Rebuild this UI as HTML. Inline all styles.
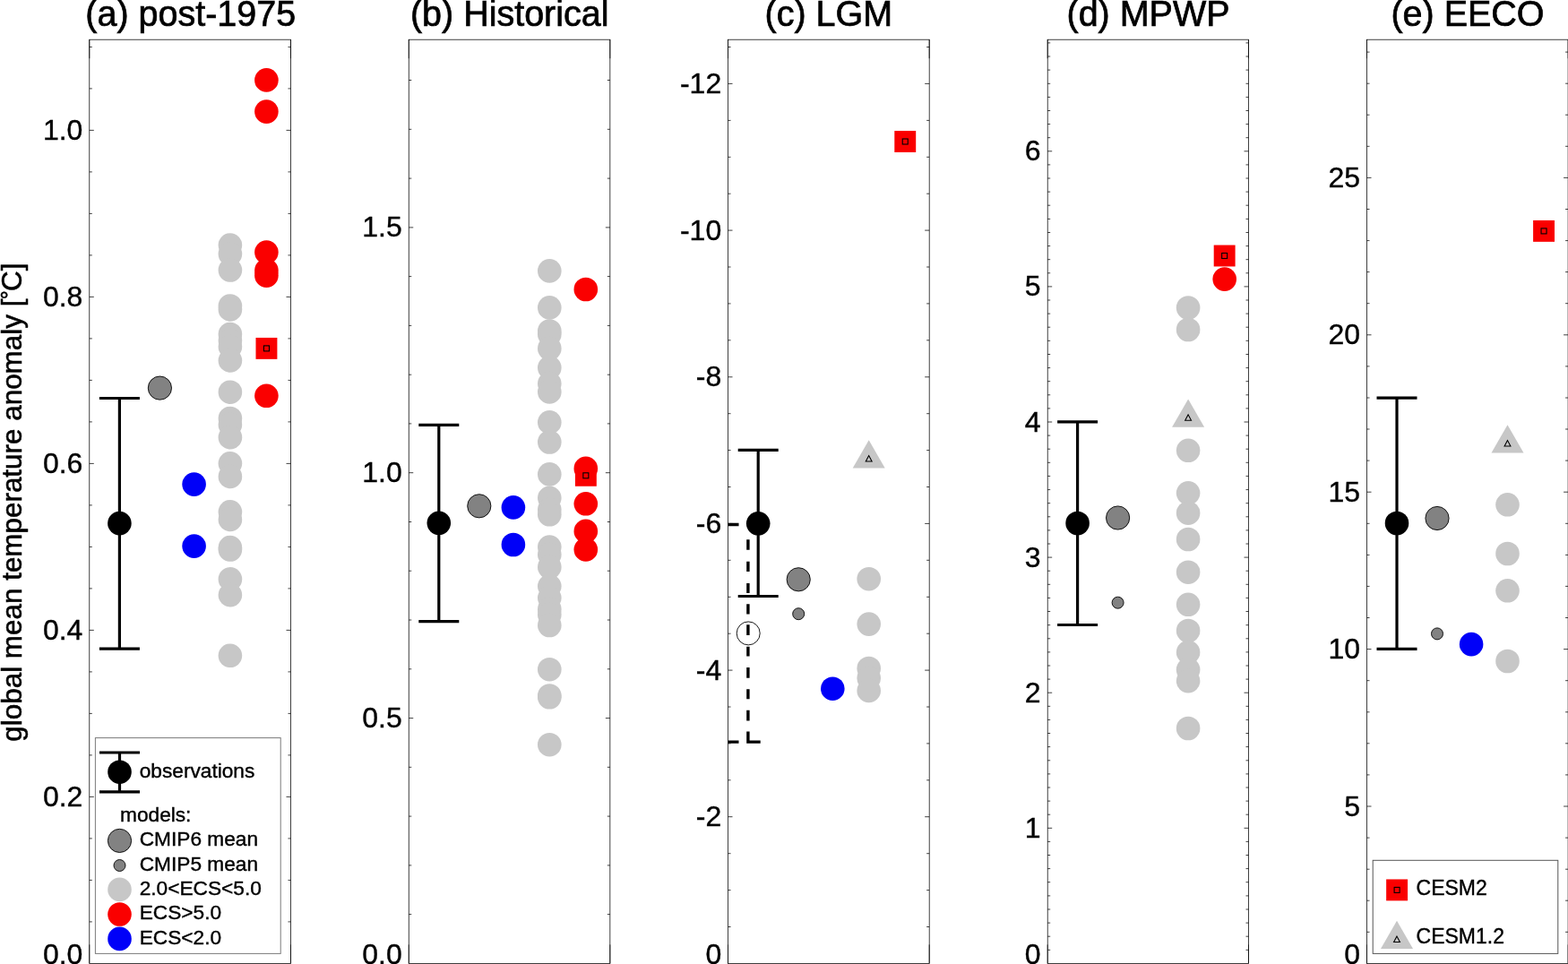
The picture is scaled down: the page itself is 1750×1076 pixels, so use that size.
<!DOCTYPE html>
<html lang="en"><head><meta charset="utf-8"><title>Global mean temperature anomaly</title>
<style>html,body{margin:0;padding:0;background:#fff}body{width:1750px;height:1076px;overflow:hidden}svg{display:block}text{font-family:'Liberation Sans', sans-serif;fill:#000}</style>
</head><body>
<svg width="1750" height="1076" viewBox="0 0 1750 1076">
<rect width="1750" height="1076" fill="#fff"/>
<g>
<text transform="translate(212.7,28.8) scale(1,1.030)" font-size="39.5" text-anchor="middle" stroke="#000" stroke-width="0.70">(a) post-1975</text>
<path d="M99.80 1028.9h3.0M324.50 1028.9h-3.0M99.80 982.4h3.0M324.50 982.4h-3.0M99.80 935.9h3.0M324.50 935.9h-3.0M99.80 889.4h5.0M324.50 889.4h-5.0M99.80 842.9h3.0M324.50 842.9h-3.0M99.80 796.4h3.0M324.50 796.4h-3.0M99.80 749.9h3.0M324.50 749.9h-3.0M99.80 703.4h5.0M324.50 703.4h-5.0M99.80 656.9h3.0M324.50 656.9h-3.0M99.80 610.4h3.0M324.50 610.4h-3.0M99.80 563.9h3.0M324.50 563.9h-3.0M99.80 517.4h5.0M324.50 517.4h-5.0M99.80 470.9h3.0M324.50 470.9h-3.0M99.80 424.4h3.0M324.50 424.4h-3.0M99.80 377.9h3.0M324.50 377.9h-3.0M99.80 331.4h5.0M324.50 331.4h-5.0M99.80 284.9h3.0M324.50 284.9h-3.0M99.80 238.4h3.0M324.50 238.4h-3.0M99.80 191.9h3.0M324.50 191.9h-3.0M99.80 145.4h5.0M324.50 145.4h-5.0M99.80 98.9h3.0M324.50 98.9h-3.0M99.80 52.4h3.0M324.50 52.4h-3.0" stroke="#000" stroke-width="0.75" fill="none"/>
<rect x="99.80" y="44.2" width="224.70" height="1031.2" fill="none" stroke="#000" stroke-width="0.75"/>
<path d="M99.80 1075.4v-21M324.50 1075.4v-21M99.80 44.2v21M324.50 44.2v21" stroke="#000" stroke-width="0.7" fill="none"/>
<text transform="translate(92.4,1075.6) scale(1,0.980)" font-size="32" text-anchor="end" stroke="#000" stroke-width="0.40">0.0</text>
<text transform="translate(92.4,899.9) scale(1,0.980)" font-size="32" text-anchor="end" stroke="#000" stroke-width="0.40">0.2</text>
<text transform="translate(92.4,713.9) scale(1,0.980)" font-size="32" text-anchor="end" stroke="#000" stroke-width="0.40">0.4</text>
<text transform="translate(92.4,527.9) scale(1,0.980)" font-size="32" text-anchor="end" stroke="#000" stroke-width="0.40">0.6</text>
<text transform="translate(92.4,341.9) scale(1,0.980)" font-size="32" text-anchor="end" stroke="#000" stroke-width="0.40">0.8</text>
<text transform="translate(92.4,155.9) scale(1,0.980)" font-size="32" text-anchor="end" stroke="#000" stroke-width="0.40">1.0</text>
<circle cx="256.9" cy="273.6" r="13.3" fill="#c7c7c7"/>
<circle cx="256.9" cy="283.5" r="13.3" fill="#c7c7c7"/>
<circle cx="256.9" cy="301.5" r="13.3" fill="#c7c7c7"/>
<circle cx="256.9" cy="341.5" r="13.3" fill="#c7c7c7"/>
<circle cx="256.9" cy="345.4" r="13.3" fill="#c7c7c7"/>
<circle cx="256.9" cy="373.0" r="13.3" fill="#c7c7c7"/>
<circle cx="256.9" cy="380.0" r="13.3" fill="#c7c7c7"/>
<circle cx="256.9" cy="387.0" r="13.3" fill="#c7c7c7"/>
<circle cx="256.9" cy="402.4" r="13.3" fill="#c7c7c7"/>
<circle cx="256.9" cy="437.7" r="13.3" fill="#c7c7c7"/>
<circle cx="256.9" cy="467.0" r="13.3" fill="#c7c7c7"/>
<circle cx="256.9" cy="473.9" r="13.3" fill="#c7c7c7"/>
<circle cx="256.9" cy="488.2" r="13.3" fill="#c7c7c7"/>
<circle cx="256.9" cy="517.3" r="13.3" fill="#c7c7c7"/>
<circle cx="256.9" cy="531.9" r="13.3" fill="#c7c7c7"/>
<circle cx="256.9" cy="571.3" r="13.3" fill="#c7c7c7"/>
<circle cx="256.9" cy="579.9" r="13.3" fill="#c7c7c7"/>
<circle cx="256.9" cy="611.1" r="13.3" fill="#c7c7c7"/>
<circle cx="256.9" cy="613.5" r="13.3" fill="#c7c7c7"/>
<circle cx="256.9" cy="646.4" r="13.3" fill="#c7c7c7"/>
<circle cx="256.9" cy="664.1" r="13.3" fill="#c7c7c7"/>
<circle cx="256.9" cy="731.8" r="13.3" fill="#c7c7c7"/>
<circle cx="297.4" cy="89.4" r="13.3" fill="#fa0000"/>
<circle cx="297.4" cy="124.6" r="13.3" fill="#fa0000"/>
<circle cx="297.4" cy="281.6" r="13.3" fill="#fa0000"/>
<circle cx="297.4" cy="302.0" r="13.3" fill="#fa0000"/>
<circle cx="297.4" cy="307.6" r="13.3" fill="#fa0000"/>
<circle cx="297.4" cy="441.8" r="13.3" fill="#fa0000"/>
<rect x="285.50" y="376.95" width="23.9" height="23.9" fill="#fa0000"/>
<rect x="294.45" y="385.90" width="6.0" height="6.0" fill="none" stroke="#000" stroke-width="1.1"/>
<circle cx="216.6" cy="540.6" r="13.3" fill="#0000f8"/>
<circle cx="216.6" cy="609.6" r="13.3" fill="#0000f8"/>
<path d="M110.9 444.5H155.9M110.9 724.1H155.9M133.4 444.5V724.1" stroke="#000" stroke-width="3.2" fill="none"/>
<circle cx="133.4" cy="584.1" r="13.3" fill="#000"/>
<circle cx="178.4" cy="433.1" r="13.1" fill="#828282" stroke="#000" stroke-width="0.9"/>
</g>
<g>
<text transform="translate(568.7,28.8) scale(1,1.030)" font-size="39.5" text-anchor="middle" stroke="#000" stroke-width="0.70">(b) Historical</text>
<path d="M456.25 1020.6h3.0M680.85 1020.6h-3.0M456.25 965.9h3.0M680.85 965.9h-3.0M456.25 911.1h3.0M680.85 911.1h-3.0M456.25 856.3h3.0M680.85 856.3h-3.0M456.25 801.6h5.0M680.85 801.6h-5.0M456.25 746.8h3.0M680.85 746.8h-3.0M456.25 692.0h3.0M680.85 692.0h-3.0M456.25 637.2h3.0M680.85 637.2h-3.0M456.25 582.5h3.0M680.85 582.5h-3.0M456.25 527.7h5.0M680.85 527.7h-5.0M456.25 472.9h3.0M680.85 472.9h-3.0M456.25 418.2h3.0M680.85 418.2h-3.0M456.25 363.4h3.0M680.85 363.4h-3.0M456.25 308.6h3.0M680.85 308.6h-3.0M456.25 253.9h5.0M680.85 253.9h-5.0M456.25 199.1h3.0M680.85 199.1h-3.0M456.25 144.3h3.0M680.85 144.3h-3.0M456.25 89.5h3.0M680.85 89.5h-3.0" stroke="#000" stroke-width="0.75" fill="none"/>
<rect x="456.25" y="44.2" width="224.60" height="1031.2" fill="none" stroke="#000" stroke-width="0.75"/>
<path d="M456.25 1075.4v-21M680.85 1075.4v-21M456.25 44.2v21M680.85 44.2v21" stroke="#000" stroke-width="0.7" fill="none"/>
<text transform="translate(448.8,1075.6) scale(1,0.980)" font-size="32" text-anchor="end" stroke="#000" stroke-width="0.40">0.0</text>
<text transform="translate(448.8,812.1) scale(1,0.980)" font-size="32" text-anchor="end" stroke="#000" stroke-width="0.40">0.5</text>
<text transform="translate(448.8,538.2) scale(1,0.980)" font-size="32" text-anchor="end" stroke="#000" stroke-width="0.40">1.0</text>
<text transform="translate(448.8,264.4) scale(1,0.980)" font-size="32" text-anchor="end" stroke="#000" stroke-width="0.40">1.5</text>
<circle cx="613.3" cy="302.4" r="13.3" fill="#c7c7c7"/>
<circle cx="613.3" cy="343.4" r="13.3" fill="#c7c7c7"/>
<circle cx="613.3" cy="369.5" r="13.3" fill="#c7c7c7"/>
<circle cx="613.3" cy="373.2" r="13.3" fill="#c7c7c7"/>
<circle cx="613.3" cy="389.0" r="13.3" fill="#c7c7c7"/>
<circle cx="613.3" cy="410.4" r="13.3" fill="#c7c7c7"/>
<circle cx="613.3" cy="428.1" r="13.3" fill="#c7c7c7"/>
<circle cx="613.3" cy="437.4" r="13.3" fill="#c7c7c7"/>
<circle cx="613.3" cy="471.4" r="13.3" fill="#c7c7c7"/>
<circle cx="613.3" cy="493.5" r="13.3" fill="#c7c7c7"/>
<circle cx="613.3" cy="529.4" r="13.3" fill="#c7c7c7"/>
<circle cx="613.3" cy="555.8" r="13.3" fill="#c7c7c7"/>
<circle cx="613.3" cy="568.8" r="13.3" fill="#c7c7c7"/>
<circle cx="613.3" cy="574.3" r="13.3" fill="#c7c7c7"/>
<circle cx="613.3" cy="610.6" r="13.3" fill="#c7c7c7"/>
<circle cx="613.3" cy="619.0" r="13.3" fill="#c7c7c7"/>
<circle cx="613.3" cy="633.0" r="13.3" fill="#c7c7c7"/>
<circle cx="613.3" cy="654.3" r="13.3" fill="#c7c7c7"/>
<circle cx="613.3" cy="667.3" r="13.3" fill="#c7c7c7"/>
<circle cx="613.3" cy="680.0" r="13.3" fill="#c7c7c7"/>
<circle cx="613.3" cy="686.0" r="13.3" fill="#c7c7c7"/>
<circle cx="613.3" cy="698.0" r="13.3" fill="#c7c7c7"/>
<circle cx="613.3" cy="747.2" r="13.3" fill="#c7c7c7"/>
<circle cx="613.3" cy="776.5" r="13.3" fill="#c7c7c7"/>
<circle cx="613.3" cy="778.3" r="13.3" fill="#c7c7c7"/>
<circle cx="613.3" cy="831.2" r="13.3" fill="#c7c7c7"/>
<circle cx="653.8" cy="323.0" r="13.3" fill="#fa0000"/>
<circle cx="653.8" cy="522.9" r="13.3" fill="#fa0000"/>
<circle cx="653.8" cy="562.3" r="13.3" fill="#fa0000"/>
<circle cx="653.8" cy="592.9" r="13.3" fill="#fa0000"/>
<circle cx="653.8" cy="613.4" r="13.3" fill="#fa0000"/>
<rect x="641.90" y="518.85" width="23.9" height="23.9" fill="#fa0000"/>
<rect x="650.85" y="527.80" width="6.0" height="6.0" fill="none" stroke="#000" stroke-width="1.1"/>
<circle cx="572.9" cy="566.4" r="13.3" fill="#0000f8"/>
<circle cx="572.9" cy="608.0" r="13.3" fill="#0000f8"/>
<path d="M467.3 474.3H512.3M467.3 693.6H512.3M489.8 474.3V693.6" stroke="#000" stroke-width="3.2" fill="none"/>
<circle cx="489.8" cy="583.8" r="13.3" fill="#000"/>
<circle cx="534.8" cy="564.8" r="13.1" fill="#828282" stroke="#000" stroke-width="0.9"/>
</g>
<g>
<text transform="translate(924.8,28.8) scale(1,1.030)" font-size="39.5" text-anchor="middle" stroke="#000" stroke-width="0.70">(c) LGM</text>
<path d="M812.50 1034.5h3.0M1037.18 1034.5h-3.0M812.50 993.6h3.0M1037.18 993.6h-3.0M812.50 952.7h3.0M1037.18 952.7h-3.0M812.50 911.7h5.0M1037.18 911.7h-5.0M812.50 870.8h3.0M1037.18 870.8h-3.0M812.50 829.9h3.0M1037.18 829.9h-3.0M812.50 789.0h3.0M1037.18 789.0h-3.0M812.50 748.1h5.0M1037.18 748.1h-5.0M812.50 707.2h3.0M1037.18 707.2h-3.0M812.50 666.3h3.0M1037.18 666.3h-3.0M812.50 625.3h3.0M1037.18 625.3h-3.0M812.50 584.4h5.0M1037.18 584.4h-5.0M812.50 543.5h3.0M1037.18 543.5h-3.0M812.50 502.6h3.0M1037.18 502.6h-3.0M812.50 461.7h3.0M1037.18 461.7h-3.0M812.50 420.8h5.0M1037.18 420.8h-5.0M812.50 379.8h3.0M1037.18 379.8h-3.0M812.50 338.9h3.0M1037.18 338.9h-3.0M812.50 298.0h3.0M1037.18 298.0h-3.0M812.50 257.1h5.0M1037.18 257.1h-5.0M812.50 216.2h3.0M1037.18 216.2h-3.0M812.50 175.3h3.0M1037.18 175.3h-3.0M812.50 134.4h3.0M1037.18 134.4h-3.0M812.50 93.4h5.0M1037.18 93.4h-5.0M812.50 52.5h3.0M1037.18 52.5h-3.0" stroke="#000" stroke-width="0.75" fill="none"/>
<rect x="812.50" y="44.2" width="224.68" height="1031.2" fill="none" stroke="#000" stroke-width="0.75"/>
<path d="M812.50 1075.4v-21M1037.18 1075.4v-21M812.50 44.2v21M1037.18 44.2v21" stroke="#000" stroke-width="0.7" fill="none"/>
<text transform="translate(805.2,1075.6) scale(1,0.980)" font-size="32" text-anchor="end" stroke="#000" stroke-width="0.40">0</text>
<text transform="translate(805.2,922.2) scale(1,0.980)" font-size="32" text-anchor="end" stroke="#000" stroke-width="0.40">-2</text>
<text transform="translate(805.2,758.6) scale(1,0.980)" font-size="32" text-anchor="end" stroke="#000" stroke-width="0.40">-4</text>
<text transform="translate(805.2,594.9) scale(1,0.980)" font-size="32" text-anchor="end" stroke="#000" stroke-width="0.40">-6</text>
<text transform="translate(805.2,431.3) scale(1,0.980)" font-size="32" text-anchor="end" stroke="#000" stroke-width="0.40">-8</text>
<text transform="translate(805.2,267.6) scale(1,0.980)" font-size="32" text-anchor="end" stroke="#000" stroke-width="0.40">-10</text>
<text transform="translate(805.2,103.9) scale(1,0.980)" font-size="32" text-anchor="end" stroke="#000" stroke-width="0.40">-12</text>
<circle cx="969.7" cy="646.2" r="13.3" fill="#c7c7c7"/>
<circle cx="969.7" cy="696.6" r="13.3" fill="#c7c7c7"/>
<circle cx="969.7" cy="746.0" r="13.3" fill="#c7c7c7"/>
<circle cx="969.7" cy="757.0" r="13.3" fill="#c7c7c7"/>
<circle cx="969.7" cy="770.9" r="13.3" fill="#c7c7c7"/>
<polygon points="969.7,491.3 951.7,522.5 987.7,522.5" fill="#c7c7c7"/>
<polygon points="969.7,508.6 966.3,515.0 973.1,515.0" fill="none" stroke="#000" stroke-width="1.1"/>
<rect x="998.30" y="146.05" width="23.9" height="23.9" fill="#fa0000"/>
<rect x="1007.25" y="155.00" width="6.0" height="6.0" fill="none" stroke="#000" stroke-width="1.1"/>
<circle cx="929.3" cy="768.7" r="13.3" fill="#0000f8"/>
<path d="M834.9 602.3V613.8M834.9 626.8V638.0M834.9 651.0V661.9M834.9 674.2V685.5M834.9 697.2V709.1M834.9 721.8V732.6M834.9 745.0V756.7M834.9 769.2V780.3M834.9 792.8V804.5M834.9 816.6V829.6M812.5 585.5H824.5M812.5 828.1H824.5M833.2 828.1H848.7" stroke="#000" stroke-width="3.4" fill="none"/>
<circle cx="835.2" cy="706.9" r="13.0" fill="none" stroke="#000" stroke-width="0.9"/>
<path d="M823.7 502.3H868.7M823.7 665.5H868.7M846.2 502.3V665.5" stroke="#000" stroke-width="3.2" fill="none"/>
<circle cx="846.2" cy="584.3" r="13.3" fill="#000"/>
<circle cx="891.2" cy="646.8" r="13.1" fill="#828282" stroke="#000" stroke-width="0.9"/>
<circle cx="891.2" cy="685.2" r="6.5" fill="#828282" stroke="#000" stroke-width="0.9"/>
</g>
<g>
<text transform="translate(1281.5,28.8) scale(1,1.030)" font-size="39.5" text-anchor="middle" stroke="#000" stroke-width="0.70">(d) MPWP</text>
<path d="M1169.20 1060.3h3.0M1393.50 1060.3h-3.0M1169.20 1045.2h3.0M1393.50 1045.2h-3.0M1169.20 1030.1h3.0M1393.50 1030.1h-3.0M1169.20 1015.0h3.0M1393.50 1015.0h-3.0M1169.20 999.9h3.0M1393.50 999.9h-3.0M1169.20 984.7h3.0M1393.50 984.7h-3.0M1169.20 969.6h3.0M1393.50 969.6h-3.0M1169.20 954.5h3.0M1393.50 954.5h-3.0M1169.20 939.4h3.0M1393.50 939.4h-3.0M1169.20 924.3h5.0M1393.50 924.3h-5.0M1169.20 909.2h3.0M1393.50 909.2h-3.0M1169.20 894.1h3.0M1393.50 894.1h-3.0M1169.20 879.0h3.0M1393.50 879.0h-3.0M1169.20 863.9h3.0M1393.50 863.9h-3.0M1169.20 848.8h3.0M1393.50 848.8h-3.0M1169.20 833.6h3.0M1393.50 833.6h-3.0M1169.20 818.5h3.0M1393.50 818.5h-3.0M1169.20 803.4h3.0M1393.50 803.4h-3.0M1169.20 788.3h3.0M1393.50 788.3h-3.0M1169.20 773.2h5.0M1393.50 773.2h-5.0M1169.20 758.1h3.0M1393.50 758.1h-3.0M1169.20 743.0h3.0M1393.50 743.0h-3.0M1169.20 727.9h3.0M1393.50 727.9h-3.0M1169.20 712.8h3.0M1393.50 712.8h-3.0M1169.20 697.7h3.0M1393.50 697.7h-3.0M1169.20 682.5h3.0M1393.50 682.5h-3.0M1169.20 667.4h3.0M1393.50 667.4h-3.0M1169.20 652.3h3.0M1393.50 652.3h-3.0M1169.20 637.2h3.0M1393.50 637.2h-3.0M1169.20 622.1h5.0M1393.50 622.1h-5.0M1169.20 607.0h3.0M1393.50 607.0h-3.0M1169.20 591.9h3.0M1393.50 591.9h-3.0M1169.20 576.8h3.0M1393.50 576.8h-3.0M1169.20 561.7h3.0M1393.50 561.7h-3.0M1169.20 546.6h3.0M1393.50 546.6h-3.0M1169.20 531.4h3.0M1393.50 531.4h-3.0M1169.20 516.3h3.0M1393.50 516.3h-3.0M1169.20 501.2h3.0M1393.50 501.2h-3.0M1169.20 486.1h3.0M1393.50 486.1h-3.0M1169.20 471.0h5.0M1393.50 471.0h-5.0M1169.20 455.9h3.0M1393.50 455.9h-3.0M1169.20 440.8h3.0M1393.50 440.8h-3.0M1169.20 425.7h3.0M1393.50 425.7h-3.0M1169.20 410.6h3.0M1393.50 410.6h-3.0M1169.20 395.5h3.0M1393.50 395.5h-3.0M1169.20 380.3h3.0M1393.50 380.3h-3.0M1169.20 365.2h3.0M1393.50 365.2h-3.0M1169.20 350.1h3.0M1393.50 350.1h-3.0M1169.20 335.0h3.0M1393.50 335.0h-3.0M1169.20 319.9h5.0M1393.50 319.9h-5.0M1169.20 304.8h3.0M1393.50 304.8h-3.0M1169.20 289.7h3.0M1393.50 289.7h-3.0M1169.20 274.6h3.0M1393.50 274.6h-3.0M1169.20 259.5h3.0M1393.50 259.5h-3.0M1169.20 244.4h3.0M1393.50 244.4h-3.0M1169.20 229.2h3.0M1393.50 229.2h-3.0M1169.20 214.1h3.0M1393.50 214.1h-3.0M1169.20 199.0h3.0M1393.50 199.0h-3.0M1169.20 183.9h3.0M1393.50 183.9h-3.0M1169.20 168.8h5.0M1393.50 168.8h-5.0M1169.20 153.7h3.0M1393.50 153.7h-3.0M1169.20 138.6h3.0M1393.50 138.6h-3.0M1169.20 123.5h3.0M1393.50 123.5h-3.0M1169.20 108.4h3.0M1393.50 108.4h-3.0M1169.20 93.3h3.0M1393.50 93.3h-3.0M1169.20 78.1h3.0M1393.50 78.1h-3.0M1169.20 63.0h3.0M1393.50 63.0h-3.0M1169.20 47.9h3.0M1393.50 47.9h-3.0" stroke="#000" stroke-width="0.75" fill="none"/>
<rect x="1169.20" y="44.2" width="224.30" height="1031.2" fill="none" stroke="#000" stroke-width="0.75"/>
<path d="M1169.20 1075.4v-21M1393.50 1075.4v-21M1169.20 44.2v21M1393.50 44.2v21" stroke="#000" stroke-width="0.7" fill="none"/>
<text transform="translate(1161.6,1075.6) scale(1,0.980)" font-size="32" text-anchor="end" stroke="#000" stroke-width="0.40">0</text>
<text transform="translate(1161.6,934.8) scale(1,0.980)" font-size="32" text-anchor="end" stroke="#000" stroke-width="0.40">1</text>
<text transform="translate(1161.6,783.7) scale(1,0.980)" font-size="32" text-anchor="end" stroke="#000" stroke-width="0.40">2</text>
<text transform="translate(1161.6,632.6) scale(1,0.980)" font-size="32" text-anchor="end" stroke="#000" stroke-width="0.40">3</text>
<text transform="translate(1161.6,481.5) scale(1,0.980)" font-size="32" text-anchor="end" stroke="#000" stroke-width="0.40">4</text>
<text transform="translate(1161.6,330.4) scale(1,0.980)" font-size="32" text-anchor="end" stroke="#000" stroke-width="0.40">5</text>
<text transform="translate(1161.6,179.3) scale(1,0.980)" font-size="32" text-anchor="end" stroke="#000" stroke-width="0.40">6</text>
<circle cx="1326.1" cy="343.5" r="13.3" fill="#c7c7c7"/>
<circle cx="1326.1" cy="368.0" r="13.3" fill="#c7c7c7"/>
<circle cx="1326.1" cy="502.8" r="13.3" fill="#c7c7c7"/>
<circle cx="1326.1" cy="550.3" r="13.3" fill="#c7c7c7"/>
<circle cx="1326.1" cy="572.7" r="13.3" fill="#c7c7c7"/>
<circle cx="1326.1" cy="602.0" r="13.3" fill="#c7c7c7"/>
<circle cx="1326.1" cy="638.7" r="13.3" fill="#c7c7c7"/>
<circle cx="1326.1" cy="674.8" r="13.3" fill="#c7c7c7"/>
<circle cx="1326.1" cy="704.0" r="13.3" fill="#c7c7c7"/>
<circle cx="1326.1" cy="728.1" r="13.3" fill="#c7c7c7"/>
<circle cx="1326.1" cy="747.4" r="13.3" fill="#c7c7c7"/>
<circle cx="1326.1" cy="760.1" r="13.3" fill="#c7c7c7"/>
<circle cx="1326.1" cy="813.0" r="13.3" fill="#c7c7c7"/>
<polygon points="1326.1,445.5 1308.1,476.7 1344.1,476.7" fill="#c7c7c7"/>
<polygon points="1326.1,462.8 1322.7,469.2 1329.5,469.2" fill="none" stroke="#000" stroke-width="1.1"/>
<circle cx="1366.7" cy="311.6" r="13.3" fill="#fa0000"/>
<rect x="1354.70" y="273.55" width="23.9" height="23.9" fill="#fa0000"/>
<rect x="1363.65" y="282.50" width="6.0" height="6.0" fill="none" stroke="#000" stroke-width="1.1"/>
<path d="M1180.1 470.8H1225.1M1180.1 697.5H1225.1M1202.6 470.8V697.5" stroke="#000" stroke-width="3.2" fill="none"/>
<circle cx="1202.6" cy="584.0" r="13.3" fill="#000"/>
<circle cx="1247.6" cy="578.0" r="13.1" fill="#828282" stroke="#000" stroke-width="0.9"/>
<circle cx="1247.6" cy="672.7" r="6.5" fill="#828282" stroke="#000" stroke-width="0.9"/>
</g>
<g>
<text transform="translate(1638.0,28.8) scale(1,1.030)" font-size="39.5" text-anchor="middle" stroke="#000" stroke-width="0.70">(e) EECO</text>
<path d="M1525.50 1040.3h3.0M1750.10 1040.3h-3.0M1525.50 1005.2h3.0M1750.10 1005.2h-3.0M1525.50 970.2h3.0M1750.10 970.2h-3.0M1525.50 935.1h3.0M1750.10 935.1h-3.0M1525.50 900.0h5.0M1750.10 900.0h-5.0M1525.50 864.9h3.0M1750.10 864.9h-3.0M1525.50 829.8h3.0M1750.10 829.8h-3.0M1525.50 794.8h3.0M1750.10 794.8h-3.0M1525.50 759.7h3.0M1750.10 759.7h-3.0M1525.50 724.6h5.0M1750.10 724.6h-5.0M1525.50 689.5h3.0M1750.10 689.5h-3.0M1525.50 654.4h3.0M1750.10 654.4h-3.0M1525.50 619.4h3.0M1750.10 619.4h-3.0M1525.50 584.3h3.0M1750.10 584.3h-3.0M1525.50 549.2h5.0M1750.10 549.2h-5.0M1525.50 514.1h3.0M1750.10 514.1h-3.0M1525.50 479.0h3.0M1750.10 479.0h-3.0M1525.50 444.0h3.0M1750.10 444.0h-3.0M1525.50 408.9h3.0M1750.10 408.9h-3.0M1525.50 373.8h5.0M1750.10 373.8h-5.0M1525.50 338.7h3.0M1750.10 338.7h-3.0M1525.50 303.6h3.0M1750.10 303.6h-3.0M1525.50 268.6h3.0M1750.10 268.6h-3.0M1525.50 233.5h3.0M1750.10 233.5h-3.0M1525.50 198.4h5.0M1750.10 198.4h-5.0M1525.50 163.3h3.0M1750.10 163.3h-3.0M1525.50 128.2h3.0M1750.10 128.2h-3.0M1525.50 93.2h3.0M1750.10 93.2h-3.0M1525.50 58.1h3.0M1750.10 58.1h-3.0" stroke="#000" stroke-width="0.75" fill="none"/>
<rect x="1525.50" y="44.2" width="224.60" height="1031.2" fill="none" stroke="#000" stroke-width="0.75"/>
<path d="M1525.50 1075.4v-21M1750.10 1075.4v-21M1525.50 44.2v21M1750.10 44.2v21" stroke="#000" stroke-width="0.7" fill="none"/>
<text transform="translate(1518.0,1075.6) scale(1,0.980)" font-size="32" text-anchor="end" stroke="#000" stroke-width="0.40">0</text>
<text transform="translate(1518.0,910.5) scale(1,0.980)" font-size="32" text-anchor="end" stroke="#000" stroke-width="0.40">5</text>
<text transform="translate(1518.0,735.1) scale(1,0.980)" font-size="32" text-anchor="end" stroke="#000" stroke-width="0.40">10</text>
<text transform="translate(1518.0,559.7) scale(1,0.980)" font-size="32" text-anchor="end" stroke="#000" stroke-width="0.40">15</text>
<text transform="translate(1518.0,384.3) scale(1,0.980)" font-size="32" text-anchor="end" stroke="#000" stroke-width="0.40">20</text>
<text transform="translate(1518.0,208.9) scale(1,0.980)" font-size="32" text-anchor="end" stroke="#000" stroke-width="0.40">25</text>
<circle cx="1682.5" cy="563.3" r="13.3" fill="#c7c7c7"/>
<circle cx="1682.5" cy="618.0" r="13.3" fill="#c7c7c7"/>
<circle cx="1682.5" cy="659.3" r="13.3" fill="#c7c7c7"/>
<circle cx="1682.5" cy="738.0" r="13.3" fill="#c7c7c7"/>
<polygon points="1682.5,474.3 1664.5,505.5 1700.5,505.5" fill="#c7c7c7"/>
<polygon points="1682.5,491.6 1679.1,498.0 1685.9,498.0" fill="none" stroke="#000" stroke-width="1.1"/>
<rect x="1711.10" y="245.95" width="23.9" height="23.9" fill="#fa0000"/>
<rect x="1720.05" y="254.90" width="6.0" height="6.0" fill="none" stroke="#000" stroke-width="1.1"/>
<circle cx="1642.1" cy="719.1" r="13.3" fill="#0000f8"/>
<path d="M1536.5 444.2H1581.5M1536.5 724.3H1581.5M1559.0 444.2V724.3" stroke="#000" stroke-width="3.2" fill="none"/>
<circle cx="1559.0" cy="584.0" r="13.3" fill="#000"/>
<circle cx="1604.0" cy="578.5" r="13.1" fill="#828282" stroke="#000" stroke-width="0.9"/>
<circle cx="1604.0" cy="707.4" r="6.5" fill="#828282" stroke="#000" stroke-width="0.9"/>
</g>
<text transform="translate(23.6,560.6) rotate(-90)" font-size="31.42" text-anchor="middle" stroke="#000" stroke-width="0.55">global mean temperature anomaly [<tspan font-size="25" dy="-4.3" dx="-0.5">°</tspan><tspan dy="4.3" dx="-0.8">C]</tspan></text>
<g>
<rect x="106.4" y="823.6" width="206.8" height="240.8" fill="#fff" stroke="#7a7a7a" stroke-width="1"/>
<path d="M111.0 840H156.0M111.0 883.9H156.0M133.5 840V883.9" stroke="#000" stroke-width="3.2" fill="none"/>
<circle cx="133.5" cy="861.7" r="13.3" fill="#000"/>
<text transform="translate(155.7,867.6) scale(1,1.010)" font-size="22.7" text-anchor="start" stroke="#000" stroke-width="0.40">observations</text>
<text transform="translate(134.0,916.9) scale(1,1.010)" font-size="22.7" text-anchor="start" stroke="#000" stroke-width="0.40">models:</text>
<circle cx="133.5" cy="938.4" r="13.1" fill="#828282" stroke="#000" stroke-width="0.9"/>
<text transform="translate(155.7,943.8) scale(1,1.010)" font-size="22.7" text-anchor="start" stroke="#000" stroke-width="0.40">CMIP6 mean</text>
<circle cx="133.5" cy="966.0" r="6.5" fill="#828282" stroke="#000" stroke-width="0.9"/>
<text transform="translate(155.7,971.5) scale(1,1.010)" font-size="22.7" text-anchor="start" stroke="#000" stroke-width="0.40">CMIP5 mean</text>
<circle cx="133.5" cy="992.9" r="13.3" fill="#c7c7c7"/>
<text transform="translate(155.7,998.8) scale(1,1.010)" font-size="22.7" text-anchor="start" stroke="#000" stroke-width="0.40">2.0&lt;ECS&lt;5.0</text>
<circle cx="133.5" cy="1020.5" r="13.3" fill="#fa0000"/>
<text transform="translate(155.7,1026.1) scale(1,1.010)" font-size="22.7" text-anchor="start" stroke="#000" stroke-width="0.40">ECS&gt;5.0</text>
<circle cx="133.5" cy="1047.9" r="13.3" fill="#0000f8"/>
<text transform="translate(155.7,1053.5) scale(1,1.010)" font-size="22.7" text-anchor="start" stroke="#000" stroke-width="0.40">ECS&lt;2.0</text>
</g>
<g>
<rect x="1532.2" y="960.3" width="206.6" height="104.1" fill="#fff" stroke="#555" stroke-width="1"/>
<rect x="1547.15" y="981.45" width="23.9" height="23.9" fill="#fa0000"/>
<rect x="1556.10" y="990.40" width="6.0" height="6.0" fill="none" stroke="#000" stroke-width="1.1"/>
<text transform="translate(1580.6,998.6) scale(1,1.025)" font-size="23" text-anchor="start" stroke="#000" stroke-width="0.40">CESM2</text>
<polygon points="1559.0,1027.8 1541.0,1059.0 1577.0,1059.0" fill="#c7c7c7"/>
<polygon points="1559.0,1045.1 1555.6,1051.5 1562.4,1051.5" fill="none" stroke="#000" stroke-width="1.1"/>
<text transform="translate(1580.6,1053.3) scale(1,1.025)" font-size="23" text-anchor="start" stroke="#000" stroke-width="0.40">CESM1.2</text>
</g>
</svg></body></html>
